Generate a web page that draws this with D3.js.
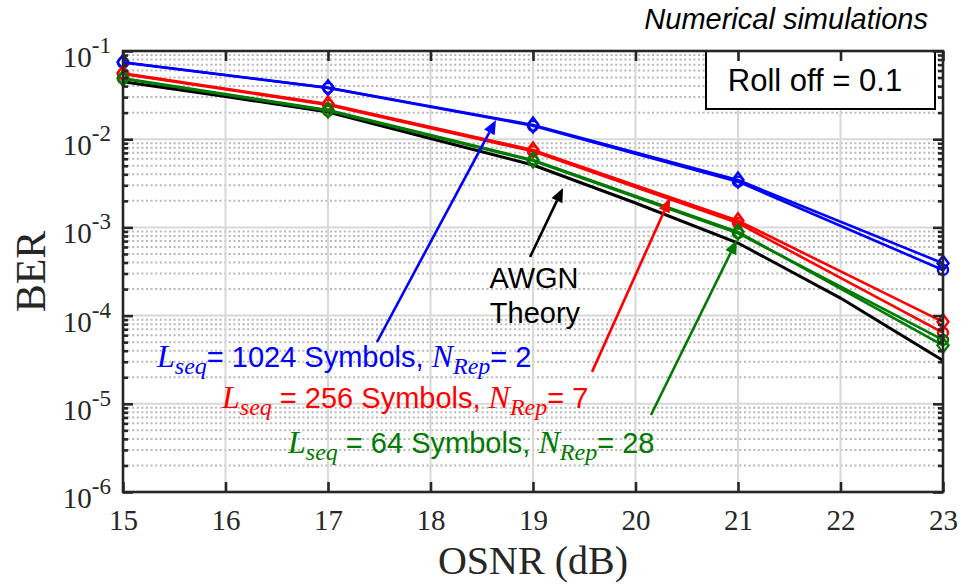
<!DOCTYPE html>
<html>
<head>
<meta charset="utf-8">
<script src="https://cdn.jsdelivr.net/npm/d3@7/dist/d3.min.js"></script>
<style>
  body { margin: 0; background: #fff; }
  svg { display: block; }
</style>
</head>
<body>
<div id="chart"></div>
<script>
// OSNR points (dB)
const osnr = [15, 17, 19, 21, 23];
const osnrTheory = [15, 16, 17, 18, 19, 20, 21, 22, 23];

// BER values
const berTheory = [0.0449, 0.0305, 0.0203, 0.0102, 0.0051, 0.00189, 0.000665, 0.000158, 0.000031];
const ber1024a = [0.0744, 0.0384, 0.0145, 0.00344, 0.000392];
const ber1024b = [0.0740, 0.0382, 0.0142, 0.00330, 0.000329];
const ber256a = [0.0558, 0.0251, 0.00755, 0.00119, 0.000085];
const ber256b = [0.0550, 0.0245, 0.00730, 0.00112, 0.000064];
const ber64a = [0.0490, 0.0214, 0.00580, 0.00089, 0.000046];
const ber64b = [0.0485, 0.0210, 0.00570, 0.00086, 0.000053];

const xTicks = [15, 16, 17, 18, 19, 20, 21, 22, 23];
const yDecades = [-6, -5, -4, -3, -2, -1];

const width = 961, height = 584;
const margin = { top: 51, right: 18, bottom: 92, left: 123 };

const svg = d3.select("#chart").append("svg")
    .attr("width", width)
    .attr("height", height);

const x = d3.scaleLinear().domain([15, 23]).range([margin.left, width - margin.right]);
const y = d3.scaleLog().domain([1e-6, 1e-1]).range([height - margin.bottom, margin.top]);

const x0 = x.range()[0], x1 = x.range()[1];
const y0 = y.range()[0], y1 = y.range()[1];

// minor values between decades
const minors = [];
yDecades.slice(0, -1).forEach(e => {
    for (let k = 2; k <= 9; k++) minors.push(k * Math.pow(10, e));
});
const majors = yDecades.map(e => Math.pow(10, e));

// grid
const grid = svg.append("g");
grid.selectAll("line.minor").data(minors).enter().append("line")
    .attr("x1", x0).attr("x2", x1)
    .attr("y1", d => y(d)).attr("y2", d => y(d))
    .attr("stroke", "#b8b8b8").attr("stroke-width", 2)
    .attr("stroke-dasharray", "2,2.6");
grid.selectAll("line.hmajor").data(majors).enter().append("line")
    .attr("x1", x0).attr("x2", x1)
    .attr("y1", d => y(d)).attr("y2", d => y(d))
    .attr("stroke", "#d8d8d8").attr("stroke-width", 2);
grid.selectAll("line.vmajor").data(xTicks).enter().append("line")
    .attr("x1", d => x(d)).attr("x2", d => x(d))
    .attr("y1", y0).attr("y2", y1)
    .attr("stroke", "#d8d8d8").attr("stroke-width", 2);

const sans = "Liberation Sans, Arial, sans-serif";
const serif = "Liberation Serif, 'Times New Roman', serif";

// roll off box
svg.append("rect")
    .attr("x", 706).attr("y", y1)
    .attr("width", 229).attr("height", 58)
    .attr("fill", "#fff").attr("stroke", "#000").attr("stroke-width", 2);
svg.append("text")
    .attr("x", 815).attr("y", 91)
    .attr("text-anchor", "middle")
    .style("font-family", sans)
    .style("font-size", "31px")
    .text("Roll off = 0.1");

// data lines
const line = d3.line().x(d => x(d[0])).y(d => y(d[1]));
const zip = (xs, ys) => xs.map((v, i) => [v, ys[i]]);

const series = [
    { vals: ber1024a, color: "#0000ff", marker: "diamond" },
    { vals: ber1024b, color: "#0000ff", marker: "circle" },
    { vals: ber256a, color: "#ff0000", marker: "diamond" },
    { vals: ber256b, color: "#ff0000", marker: "circle" },
    { vals: ber64a, color: "#007a00", marker: "diamond" },
    { vals: ber64b, color: "#007a00", marker: "circle" }
];

svg.append("path")
    .datum(zip(osnrTheory, berTheory))
    .attr("d", line)
    .attr("fill", "none").attr("stroke", "#000").attr("stroke-width", 3);

series.forEach(s => {
    const pts = zip(osnr, s.vals);
    svg.append("path")
        .datum(pts)
        .attr("d", line)
        .attr("fill", "none").attr("stroke", s.color).attr("stroke-width", 2.6);
    if (s.marker === "circle") {
        svg.selectAll(null).data(pts).enter().append("circle")
            .attr("cx", d => x(d[0])).attr("cy", d => y(d[1]))
            .attr("r", 5)
            .attr("fill", "none").attr("stroke", s.color).attr("stroke-width", 2.4);
    } else {
        svg.selectAll(null).data(pts).enter().append("path")
            .attr("d", d => {
                const cx = x(d[0]), cy = y(d[1]);
                return `M${cx},${cy - 7.5}L${cx + 5.5},${cy}L${cx},${cy + 7.5}L${cx - 5.5},${cy}Z`;
            })
            .attr("fill", "none").attr("stroke", s.color).attr("stroke-width", 2.4);
    }
});

// annotation arrows (data units: [osnr, ber] tail -> tip)
const arrows = [
    { from: [17.478, 5.02e-5], to: [18.639, 0.0165], color: "#0000ff" },
    { from: [18.971, 4.61e-4], to: [19.293, 2.80e-3], color: "#000000" },
    { from: [19.576, 2.30e-5], to: [20.337, 2.15e-3], color: "#ff0000" },
    { from: [20.151, 7.46e-6], to: [20.990, 7.20e-4], color: "#007a00" }
];

arrows.forEach(a => {
    const xa = x(a.from[0]), ya = y(a.from[1]);
    const xb = x(a.to[0]), yb = y(a.to[1]);
    const ang = Math.atan2(yb - ya, xb - xa);
    const L = 14, W = 6;
    const bx = xb - L * Math.cos(ang), by = yb - L * Math.sin(ang);
    svg.append("line")
        .attr("x1", xa).attr("y1", ya).attr("x2", bx).attr("y2", by)
        .attr("stroke", a.color).attr("stroke-width", 2.6);
    const px = -Math.sin(ang) * W, py = Math.cos(ang) * W;
    svg.append("path")
        .attr("d", `M${xb},${yb}L${bx + px},${by + py}L${bx - px},${by - py}Z`)
        .attr("fill", a.color);
});

// annotation texts
svg.append("text")
    .attr("x", 534).attr("y", 288).attr("text-anchor", "middle")
    .style("font-family", sans).style("font-size", "29px")
    .text("AWGN");
svg.append("text")
    .attr("x", 535).attr("y", 323).attr("text-anchor", "middle")
    .style("font-family", sans).style("font-size", "29px")
    .text("Theory");

const labels = [
    { color: "#0000ff", base: 367, xl: 157, mid: "= 1024 Symbols, ", end: "= 2" },
    { color: "#ff0000", base: 408, xl: 222, mid: " = 256 Symbols, ", end: "= 7" },
    { color: "#007a00", base: 453, xl: 288, mid: " = 64 Symbols, ", end: "= 28" }
];

labels.forEach(l => {
    const t = svg.append("text").attr("x", l.xl).attr("y", l.base)
        .attr("fill", l.color).attr("xml:space", "preserve")
        .style("white-space", "pre");
    t.append("tspan")
        .style("font-family", serif).style("font-style", "italic").style("font-size", "32px")
        .text("L");
    t.append("tspan").attr("dy", 7)
        .style("font-family", serif).style("font-style", "italic").style("font-size", "24px")
        .text("seq");
    t.append("tspan").attr("dy", -7)
        .style("font-family", sans).style("font-size", "29px")
        .text(l.mid);
    t.append("tspan")
        .style("font-family", serif).style("font-style", "italic").style("font-size", "32px")
        .text("N");
    t.append("tspan").attr("dy", 7)
        .style("font-family", serif).style("font-style", "italic").style("font-size", "24px")
        .text("Rep");
    t.append("tspan").attr("dy", -7)
        .style("font-family", sans).style("font-size", "29px")
        .text(l.end);
});

svg.append("text")
    .attr("x", 928).attr("y", 29).attr("text-anchor", "end")
    .style("font-family", sans).style("font-style", "italic").style("font-size", "29px")
    .text("Numerical simulations");

// axes frame
const axisColor = "#262626";
svg.append("rect")
    .attr("x", x0).attr("y", y1)
    .attr("width", x1 - x0).attr("height", y0 - y1)
    .attr("fill", "none").attr("stroke", axisColor).attr("stroke-width", 2.6);

const styleAxis = g => {
    g.select(".domain").remove();
    g.selectAll(".tick line").attr("stroke", axisColor).attr("stroke-width", 2.6);
};

// x axis bottom with labels
svg.append("g")
    .attr("transform", `translate(0,${y0})`)
    .call(d3.axisBottom(x).tickValues(xTicks).tickSize(-10).tickPadding(17).tickFormat(d3.format("d")))
    .call(styleAxis)
    .call(g => g.selectAll(".tick text")
        .attr("fill", "#262626")
        .style("font-family", serif).style("font-size", "29px"));

// x axis top
svg.append("g")
    .attr("transform", `translate(0,${y1})`)
    .call(d3.axisTop(x).tickValues(xTicks).tickSize(-10).tickFormat(""))
    .call(styleAxis);

// y axes left and right, major + minor ticks
[[d3.axisLeft, x0], [d3.axisRight, x1]].forEach(([ax, pos]) => {
    svg.append("g")
        .attr("transform", `translate(${pos},0)`)
        .call(ax(y).tickValues(majors).tickSize(-10).tickFormat(""))
        .call(styleAxis);
    svg.append("g")
        .attr("transform", `translate(${pos},0)`)
        .call(ax(y).tickValues(minors).tickSize(-5).tickFormat(""))
        .call(styleAxis);
});

// y tick labels 10^e
yDecades.forEach(e => {
    const t = svg.append("text")
        .attr("x", 111).attr("y", y(Math.pow(10, e)) + 16)
        .attr("text-anchor", "end")
        .attr("fill", "#262626")
        .style("font-family", serif);
    t.append("tspan").style("font-size", "29px").text("10");
    t.append("tspan").attr("dy", -14).style("font-size", "23px").text("-" + (-e));
});

// axis titles
svg.append("text")
    .attr("x", (x0 + x1) / 2).attr("y", 574)
    .attr("text-anchor", "middle")
    .attr("fill", "#262626")
    .style("font-family", serif).style("font-size", "40px")
    .text("OSNR (dB)");

svg.append("text")
    .attr("transform", `translate(45,${(y0 + y1) / 2}) rotate(-90)`)
    .attr("text-anchor", "middle")
    .attr("fill", "#262626")
    .style("font-family", serif).style("font-size", "42px")
    .text("BER");
</script>
</body>
</html>
